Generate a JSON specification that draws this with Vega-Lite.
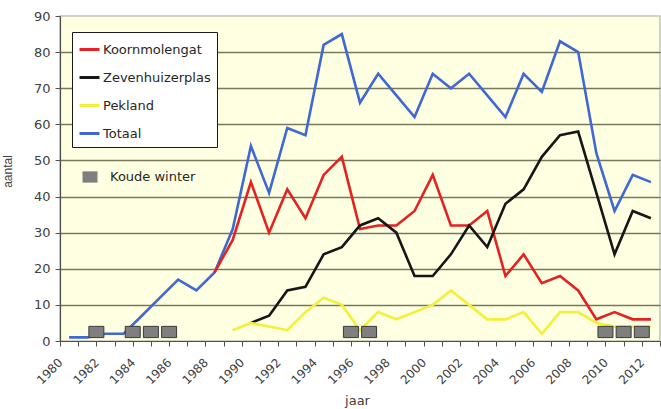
{
  "$schema": "https://vega.github.io/schema/vega-lite/v6.json",
  "width": 600,
  "height": 325,
  "autosize": "none",
  "padding": {"left": 60, "top": 16, "right": 1, "bottom": 68},
  "background": "white",
  "config": {
    "font": "DejaVu Sans",
    "view": {"fill": "#FFFFE2", "stroke": "#C4C4B2", "strokeWidth": 1.5}
  },
  "data": {
    "values": [
      {"year": 1980, "series": "Totaal", "aantal": 1},
      {"year": 1981, "series": "Totaal", "aantal": 1},
      {"year": 1982, "series": "Totaal", "aantal": 2},
      {"year": 1983, "series": "Totaal", "aantal": 2},
      {"year": 1984, "series": "Totaal", "aantal": 7},
      {"year": 1985, "series": "Totaal", "aantal": 12},
      {"year": 1986, "series": "Totaal", "aantal": 17},
      {"year": 1987, "series": "Totaal", "aantal": 14},
      {"year": 1988, "series": "Totaal", "aantal": 19},
      {"year": 1989, "series": "Totaal", "aantal": 31},
      {"year": 1990, "series": "Totaal", "aantal": 54},
      {"year": 1991, "series": "Totaal", "aantal": 41},
      {"year": 1992, "series": "Totaal", "aantal": 59},
      {"year": 1993, "series": "Totaal", "aantal": 57},
      {"year": 1994, "series": "Totaal", "aantal": 82},
      {"year": 1995, "series": "Totaal", "aantal": 85},
      {"year": 1996, "series": "Totaal", "aantal": 66},
      {"year": 1997, "series": "Totaal", "aantal": 74},
      {"year": 1998, "series": "Totaal", "aantal": 68},
      {"year": 1999, "series": "Totaal", "aantal": 62},
      {"year": 2000, "series": "Totaal", "aantal": 74},
      {"year": 2001, "series": "Totaal", "aantal": 70},
      {"year": 2002, "series": "Totaal", "aantal": 74},
      {"year": 2003, "series": "Totaal", "aantal": 68},
      {"year": 2004, "series": "Totaal", "aantal": 62},
      {"year": 2005, "series": "Totaal", "aantal": 74},
      {"year": 2006, "series": "Totaal", "aantal": 69},
      {"year": 2007, "series": "Totaal", "aantal": 83},
      {"year": 2008, "series": "Totaal", "aantal": 80},
      {"year": 2009, "series": "Totaal", "aantal": 52},
      {"year": 2010, "series": "Totaal", "aantal": 36},
      {"year": 2011, "series": "Totaal", "aantal": 46},
      {"year": 2012, "series": "Totaal", "aantal": 44},
      {"year": 1988, "series": "Koornmolengat", "aantal": 19},
      {"year": 1989, "series": "Koornmolengat", "aantal": 28},
      {"year": 1990, "series": "Koornmolengat", "aantal": 44},
      {"year": 1991, "series": "Koornmolengat", "aantal": 30},
      {"year": 1992, "series": "Koornmolengat", "aantal": 42},
      {"year": 1993, "series": "Koornmolengat", "aantal": 34},
      {"year": 1994, "series": "Koornmolengat", "aantal": 46},
      {"year": 1995, "series": "Koornmolengat", "aantal": 51},
      {"year": 1996, "series": "Koornmolengat", "aantal": 31},
      {"year": 1997, "series": "Koornmolengat", "aantal": 32},
      {"year": 1998, "series": "Koornmolengat", "aantal": 32},
      {"year": 1999, "series": "Koornmolengat", "aantal": 36},
      {"year": 2000, "series": "Koornmolengat", "aantal": 46},
      {"year": 2001, "series": "Koornmolengat", "aantal": 32},
      {"year": 2002, "series": "Koornmolengat", "aantal": 32},
      {"year": 2003, "series": "Koornmolengat", "aantal": 36},
      {"year": 2004, "series": "Koornmolengat", "aantal": 18},
      {"year": 2005, "series": "Koornmolengat", "aantal": 24},
      {"year": 2006, "series": "Koornmolengat", "aantal": 16},
      {"year": 2007, "series": "Koornmolengat", "aantal": 18},
      {"year": 2008, "series": "Koornmolengat", "aantal": 14},
      {"year": 2009, "series": "Koornmolengat", "aantal": 6},
      {"year": 2010, "series": "Koornmolengat", "aantal": 8},
      {"year": 2011, "series": "Koornmolengat", "aantal": 6},
      {"year": 2012, "series": "Koornmolengat", "aantal": 6},
      {"year": 1990, "series": "Zevenhuizerplas", "aantal": 5},
      {"year": 1991, "series": "Zevenhuizerplas", "aantal": 7},
      {"year": 1992, "series": "Zevenhuizerplas", "aantal": 14},
      {"year": 1993, "series": "Zevenhuizerplas", "aantal": 15},
      {"year": 1994, "series": "Zevenhuizerplas", "aantal": 24},
      {"year": 1995, "series": "Zevenhuizerplas", "aantal": 26},
      {"year": 1996, "series": "Zevenhuizerplas", "aantal": 32},
      {"year": 1997, "series": "Zevenhuizerplas", "aantal": 34},
      {"year": 1998, "series": "Zevenhuizerplas", "aantal": 30},
      {"year": 1999, "series": "Zevenhuizerplas", "aantal": 18},
      {"year": 2000, "series": "Zevenhuizerplas", "aantal": 18},
      {"year": 2001, "series": "Zevenhuizerplas", "aantal": 24},
      {"year": 2002, "series": "Zevenhuizerplas", "aantal": 32},
      {"year": 2003, "series": "Zevenhuizerplas", "aantal": 26},
      {"year": 2004, "series": "Zevenhuizerplas", "aantal": 38},
      {"year": 2005, "series": "Zevenhuizerplas", "aantal": 42},
      {"year": 2006, "series": "Zevenhuizerplas", "aantal": 51},
      {"year": 2007, "series": "Zevenhuizerplas", "aantal": 57},
      {"year": 2008, "series": "Zevenhuizerplas", "aantal": 58},
      {"year": 2009, "series": "Zevenhuizerplas", "aantal": 41},
      {"year": 2010, "series": "Zevenhuizerplas", "aantal": 24},
      {"year": 2011, "series": "Zevenhuizerplas", "aantal": 36},
      {"year": 2012, "series": "Zevenhuizerplas", "aantal": 34},
      {"year": 1989, "series": "Pekland", "aantal": 3},
      {"year": 1990, "series": "Pekland", "aantal": 5},
      {"year": 1991, "series": "Pekland", "aantal": 4},
      {"year": 1992, "series": "Pekland", "aantal": 3},
      {"year": 1993, "series": "Pekland", "aantal": 8},
      {"year": 1994, "series": "Pekland", "aantal": 12},
      {"year": 1995, "series": "Pekland", "aantal": 10},
      {"year": 1996, "series": "Pekland", "aantal": 3},
      {"year": 1997, "series": "Pekland", "aantal": 8},
      {"year": 1998, "series": "Pekland", "aantal": 6},
      {"year": 1999, "series": "Pekland", "aantal": 8},
      {"year": 2000, "series": "Pekland", "aantal": 10},
      {"year": 2001, "series": "Pekland", "aantal": 14},
      {"year": 2002, "series": "Pekland", "aantal": 10},
      {"year": 2003, "series": "Pekland", "aantal": 6},
      {"year": 2004, "series": "Pekland", "aantal": 6},
      {"year": 2005, "series": "Pekland", "aantal": 8},
      {"year": 2006, "series": "Pekland", "aantal": 2},
      {"year": 2007, "series": "Pekland", "aantal": 8},
      {"year": 2008, "series": "Pekland", "aantal": 8},
      {"year": 2009, "series": "Pekland", "aantal": 5},
      {"year": 2010, "series": "Pekland", "aantal": 4},
      {"year": 2011, "series": "Pekland", "aantal": 4},
      {"year": 2012, "series": "Pekland", "aantal": 4},
      {"year": 1981.5, "series": "Koude winter", "aantal": 2.5},
      {"year": 1983.5, "series": "Koude winter", "aantal": 2.5},
      {"year": 1984.5, "series": "Koude winter", "aantal": 2.5},
      {"year": 1985.5, "series": "Koude winter", "aantal": 2.5},
      {"year": 1995.5, "series": "Koude winter", "aantal": 2.5},
      {"year": 1996.5, "series": "Koude winter", "aantal": 2.5},
      {"year": 2009.5, "series": "Koude winter", "aantal": 2.5},
      {"year": 2010.5, "series": "Koude winter", "aantal": 2.5},
      {"year": 2011.5, "series": "Koude winter", "aantal": 2.5}
    ]
  },
  "encoding": {
    "x": {
      "field": "year",
      "type": "quantitative",
      "scale": {"domain": [1979.5, 2012.5], "nice": false, "zero": false},
      "axis": {
        "title": "jaar",
        "titleFont": "DejaVu Sans",
        "titleFontSize": 13,
        "titleFontWeight": "normal",
        "titleColor": "#404040",
        "titleX": 297,
        "titleY": 53,
        "values": [1979.5, 1980, 1980.5, 1981.5, 1982, 1982.5, 1983.5, 1984, 1984.5, 1985.5, 1986, 1986.5, 1987.5, 1988, 1988.5, 1989.5, 1990, 1990.5, 1991.5, 1992, 1992.5, 1993.5, 1994, 1994.5, 1995.5, 1996, 1996.5, 1997.5, 1998, 1998.5, 1999.5, 2000, 2000.5, 2001.5, 2002, 2002.5, 2003.5, 2004, 2004.5, 2005.5, 2006, 2006.5, 2007.5, 2008, 2008.5, 2009.5, 2010, 2010.5, 2011.5, 2012, 2012.5],
        "labelExpr": "datum.value % 1 == 0 ? '' + datum.value : ''",
        "labelOffset": -9,
        "labelAngle": -45,
        "labelAlign": "right",
        "labelBaseline": "middle",
        "labelPadding": 14,
        "labelFont": "DejaVu Sans",
        "labelFontSize": 12,
        "labelColor": "#404040",
        "labelOverlap": false,
        "labelFlush": false,
        "labelBound": false,
        "tickSize": 5,
        "tickColor": "#505050",
        "tickWidth": 1,
        "tickOpacity": {"condition": {"test": "datum.value % 1 == 0", "value": 0}, "value": 1},
        "domainColor": "#505050",
        "domainWidth": 1.2,
        "grid": false
      }
    },
    "y": {
      "field": "aantal",
      "type": "quantitative",
      "scale": {"domain": [0, 90], "nice": false},
      "axis": {
        "title": "aantal",
        "titleFont": "Liberation Sans",
        "titleFontSize": 12,
        "titleFontWeight": "normal",
        "titleColor": "#404040",
        "titleX": -46,
        "titleY": 155,
        "values": [0, 10, 20, 30, 40, 50, 60, 70, 80, 90],
        "labelFont": "DejaVu Sans",
        "labelFontSize": 13,
        "labelColor": "#404040",
        "labelPadding": 5,
        "tickSize": 5,
        "tickColor": "#505050",
        "domainColor": "#505050",
        "domainWidth": 1.2,
        "grid": true,
        "gridColor": "#77775A",
        "gridWidth": 1.6,
        "gridOpacity": {"condition": {"test": "datum.value == 90 || datum.value == 0", "value": 0}, "value": 1}
      }
    }
  },
  "layer": [
    {
      "transform": [{"filter": "datum.series != 'Koude winter'"}],
      "mark": {"type": "line", "strokeWidth": 2.6},
      "encoding": {
        "color": {
          "field": "series",
          "type": "nominal",
          "scale": {
            "domain": ["Koornmolengat", "Zevenhuizerplas", "Pekland", "Totaal"],
            "range": ["#E52222", "#161616", "#F4F03A", "#3F68D4"]
          },
          "legend": {
            "orient": "none",
            "legendX": 12,
            "legendY": 16,
            "title": null,
            "symbolType": "stroke",
            "symbolStrokeWidth": 3,
            "symbolSize": 400,
            "labelFont": "DejaVu Sans",
            "labelFontSize": 13,
            "labelColor": "#262626",
            "labelOffset": 2,
            "fillColor": "#ffffff",
            "strokeColor": "#1a1a1a",
            "padding": 6,
            "rowPadding": 9
          }
        }
      }
    },
    {
      "transform": [{"filter": "datum.series == 'Koude winter'"}],
      "mark": {"type": "point", "filled": true, "fill": "#7f7f7f", "stroke": "#3a3a3a", "strokeWidth": 1, "opacity": 1, "size": 225},
      "encoding": {
        "shape": {
          "field": "series",
          "type": "nominal",
          "scale": {"domain": ["Koude winter"], "range": ["M-1,-0.75L1,-0.75L1,0.75L-1,0.75Z"]},
          "legend": {
            "orient": "none",
            "legendX": 22,
            "legendY": 153,
            "title": null,
            "symbolFillColor": "#7f7f7f",
            "symbolStrokeColor": "#3a3a3a",
            "symbolStrokeWidth": 1,
            "symbolSize": 225,
            "symbolOpacity": 1,
            "labelFont": "DejaVu Sans",
            "labelFontSize": 13,
            "labelColor": "#262626",
            "labelOffset": 12,
            "padding": 0
          }
        }
      }
    }
  ]
}
